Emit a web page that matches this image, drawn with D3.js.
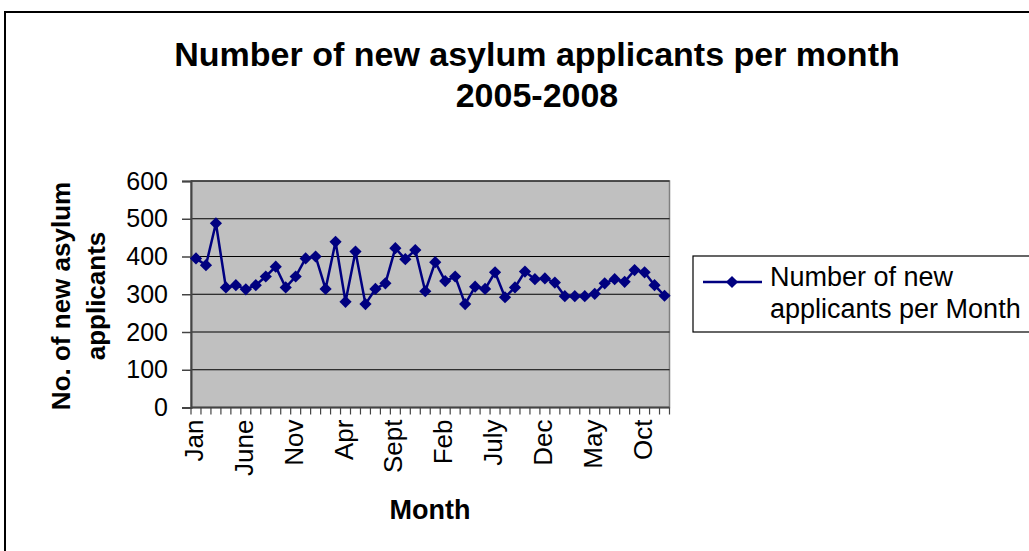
<!DOCTYPE html>
<html><head><meta charset="utf-8">
<script src="https://cdn.jsdelivr.net/npm/d3@7"></script>
<style>body{margin:0;background:#fff}svg{display:block}text{font-family:"Liberation Sans",Arial,sans-serif}</style>
</head><body><div id="chart"></div>
<script>
const monthNames = ["Jan","Feb","Mar","Apr","May","June","July","Aug","Sept","Oct","Nov","Dec"];
const years = [2005,2006,2007,2008];
const values = [395,377,488,318,324,313,324,347,373,318,347,395,
                400,314,439,280,413,274,314,329,422,393,417,308,
                385,335,347,274,320,314,358,292,318,360,340,342,
                331,295,295,295,301,329,340,333,364,358,324,296];
const yTicks = [0,100,200,300,400,500,600];
const titleLines = ["Number of new asylum applicants per month","2005-2008"];
const yTitleLines = ["No. of new asylum","applicants"];
const xTitle = "Month";
const legendLines = ["Number of new","applicants per Month"];

const categories = [];
years.forEach(y => monthNames.forEach(m => categories.push(m + " " + y)));
const data = categories.map((c,i) => ({cat:c, month:c.split(" ")[0], v:values[i]}));

const W = 1029, H = 551;
const svg = d3.select("#chart").append("svg").attr("width",W).attr("height",H);
svg.append("rect").attr("x",5).attr("y",12).attr("width",W+20).attr("height",H+20)
  .attr("fill","#fff").attr("stroke","#000").attr("stroke-width",2);

const L = 191, R = 669.5, T = 181, B = 407.5;
const x = d3.scaleBand().domain(categories).range([L,R]);
const y = d3.scaleLinear().domain([0,600]).range([B,T]);

svg.append("rect").attr("x",L).attr("y",T).attr("width",R-L).attr("height",B-T)
  .attr("fill","#c0c0c0").attr("stroke","#808080").attr("stroke-width",1.5);

svg.append("g").selectAll("line").data(yTicks.filter(d=>d>0)).join("line")
  .attr("x1",L).attr("x2",R).attr("y1",d=>y(d)).attr("y2",d=>y(d))
  .attr("stroke","#000").attr("stroke-width",1.2);

// y axis
const ya = svg.append("g").attr("transform",`translate(${L},0)`)
  .call(d3.axisLeft(y).tickValues(yTicks).tickSize(9).tickPadding(14));
ya.select(".domain").attr("stroke","#444").attr("stroke-width",2);
ya.selectAll(".tick line").attr("stroke","#444").attr("stroke-width",1.5);
ya.selectAll("text").attr("font-size",25).attr("fill","#000");

// x axis ticks at band boundaries
const xa = svg.append("g").attr("transform",`translate(0,${B})`);
xa.append("line").attr("x1",L).attr("x2",R).attr("stroke","#444").attr("stroke-width",2);
const bounds = categories.map(c=>x(c)).concat([R]);
xa.selectAll("line.t").data(bounds).join("line").attr("class","t")
  .attr("x1",d=>d).attr("x2",d=>d).attr("y1",0).attr("y2",7).attr("stroke","#444").attr("stroke-width",1.2);
xa.selectAll("text").data(data.filter((d,i)=>i%5===0)).join("text")
  .attr("transform",d=>`translate(${x(d.cat)+x.bandwidth()/2+7},12) rotate(-90)`)
  .attr("text-anchor","end").attr("font-size",26).text(d=>d.month);

// line + markers
const line = d3.line().x(d=>x(d.cat)+x.bandwidth()/2).y(d=>y(d.v));
svg.append("path").datum(data).attr("d",line).attr("fill","none").attr("stroke","#000080").attr("stroke-width",2.5);
const diamond = d3.symbol().type(d3.symbolDiamond2).size(95);
svg.append("g").selectAll("path").data(data).join("path")
  .attr("transform",d=>`translate(${x(d.cat)+x.bandwidth()/2},${y(d.v)})`)
  .attr("d",diamond).attr("fill","#000080");

// titles
svg.append("g").selectAll("text").data(titleLines).join("text")
  .attr("x",537).attr("y",(d,i)=>66+i*41).attr("text-anchor","middle")
  .attr("font-size",34).attr("font-weight","bold").text(d=>d);
svg.append("g").selectAll("text").data(yTitleLines).join("text")
  .attr("transform",(d,i)=>`translate(${70+i*35},296) rotate(-90)`)
  .attr("text-anchor","middle").attr("font-size",26).attr("font-weight","bold").text(d=>d);
svg.append("text").attr("x",430).attr("y",519).attr("text-anchor","middle")
  .attr("font-size",27).attr("font-weight","bold").text(xTitle);

// legend
const lg = svg.append("g");
lg.append("rect").attr("x",693).attr("y",256).attr("width",360).attr("height",76)
  .attr("fill","#fff").attr("stroke","#000").attr("stroke-width",1.2);
lg.append("line").attr("x1",703).attr("x2",762).attr("y1",282).attr("y2",282).attr("stroke","#000080").attr("stroke-width",2.5);
lg.append("path").attr("transform","translate(732,282)").attr("d",diamond).attr("fill","#000080");
lg.selectAll("text").data(legendLines).join("text")
  .attr("x",770).attr("y",(d,i)=>286+i*32).attr("font-size",27).text(d=>d);
</script></body></html>
